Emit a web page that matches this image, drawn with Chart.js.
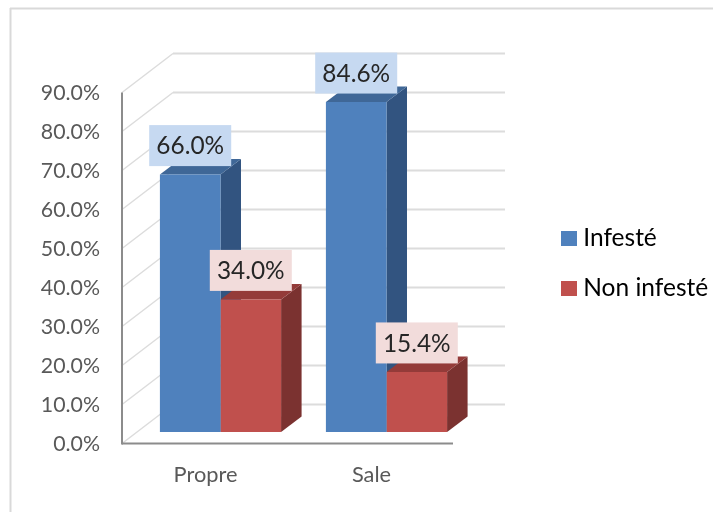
<!DOCTYPE html>
<html>
<head>
<meta charset="utf-8">
<title>Infesté / Non infesté</title>
<style>
    html, body { margin: 0; padding: 0; background: #fff; }
    canvas { display: block; }
</style>
<script src="https://cdn.jsdelivr.net/npm/chart.js@4/dist/chart.umd.js"></script>
</head>
<body>
<canvas id="chart" width="713" height="512"></canvas>
<script>
const categories = ['Propre', 'Sale'];
const infeste = [66.0, 84.6];
const nonInfeste = [34.0, 15.4];
const seriesNames = ['Infesté', 'Non infesté'];

// front, top and side colours, and the label background
const seriesColors = ['#4F81BD', '#C0504D'];
const topColors = ['#3F6797', '#943B39'];
const sideColors = ['#325480', '#7B3230'];
const labelColors = ['#C6D9F1', '#F2DCDB'];

const FONT = 'Lato, "Open Sans", sans-serif';
const barDepth = { x: 20.5, y: -15.5 };
const frontOffset = { left: 122, y: 11.5 };  // front wall, relative to the bars
const backOffset = { left: 173, right: 505, y: -27.5 };

const polygon = (ctx, color, points) => {
    ctx.fillStyle = color;
    ctx.beginPath();
    points.forEach(([x, y], i) => (i ? ctx.lineTo(x, y) : ctx.moveTo(x, y)));
    ctx.closePath();
    ctx.fill();
};

const line = (ctx, color, width, x1, y1, x2, y2) => {
    ctx.strokeStyle = color;
    ctx.lineWidth = width;
    ctx.beginPath();
    ctx.moveTo(x1, y1);
    ctx.lineTo(x2, y2);
    ctx.stroke();
};

const scene3d = {
    id: 'scene3d',
    afterLayout(chart) {
        // the legend sits away from the plot, as in the original
        const legend = chart.legend;
        legend.left = 541.5;
        legend.right = 713;
        legend.top = 48;
        legend.bottom = 479;
    },
    beforeDatasetsDraw(chart) {
        const { ctx, scales } = chart;
        const y = scales.y;
        ctx.save();

        // chart frame
        line(ctx, '#D9D9D9', 2, 10, 8.5, 713, 8.5);
        line(ctx, '#D9D9D9', 2, 10.5, 8, 10.5, 512);

        // walls
        y.ticks.forEach((tick) => {
            const py = y.getPixelForValue(tick.value);
            line(ctx, '#DCDCDC', 2, backOffset.left, py + backOffset.y, backOffset.right, py + backOffset.y);
            line(ctx, '#DCDCDC', 1.5, frontOffset.left, py + frontOffset.y, backOffset.left, py + backOffset.y);
        });

        // axes
        const zero = y.getPixelForValue(0) + frontOffset.y;
        const top = y.getPixelForValue(90) + frontOffset.y;
        line(ctx, '#8C8C8C', 2, frontOffset.left, top, frontOffset.left, zero + 1);
        line(ctx, '#8C8C8C', 2, frontOffset.left, zero, 453, zero);

        // top and side faces of the bars
        chart.data.datasets.forEach((ds, d) => {
            chart.getDatasetMeta(d).data.forEach((bar) => {
                const half = bar.width / 2;
                const l = bar.x - half;
                const r = bar.x + half;
                const dx = barDepth.x;
                const dy = barDepth.y;
                polygon(ctx, sideColors[d], [[r, bar.y], [r + dx, bar.y + dy], [r + dx, bar.base + dy], [r, bar.base]]);
                polygon(ctx, topColors[d], [[l, bar.y], [l + dx, bar.y + dy], [r + dx, bar.y + dy], [r, bar.y]]);
            });
        });
        ctx.restore();
    },
    afterDatasetsDraw(chart) {
        const { ctx } = chart;
        ctx.save();
        ctx.font = '24.4px ' + FONT;
        ctx.textAlign = 'center';
        ctx.textBaseline = 'middle';
        chart.data.datasets.forEach((ds, d) => {
            chart.getDatasetMeta(d).data.forEach((bar, i) => {
                const cy = bar.y - 29;
                ctx.fillStyle = labelColors[d];
                ctx.fillRect(bar.x - 41, cy - 20.5, 82, 41);
                ctx.fillStyle = '#262626';
                ctx.fillText(ds.data[i].toFixed(1) + '%', bar.x, cy + 1);
            });
        });
        ctx.restore();
    },
};

new Chart(document.getElementById('chart'), {
    type: 'bar',
    data: {
        labels: categories,
        datasets: [
            { label: seriesNames[0], data: infeste, backgroundColor: seriesColors[0] },
            { label: seriesNames[1], data: nonInfeste, backgroundColor: seriesColors[1] },
        ],
    },
    options: {
        responsive: false,
        animation: false,
        devicePixelRatio: 1,
        layout: { padding: { top: 81, right: 87, bottom: 0, left: 0 } },
        datasets: { bar: { categoryPercentage: 0.73, barPercentage: 1 } },
        plugins: {
            tooltip: { enabled: false },
            legend: {
                position: 'right',
                labels: {
                    font: { family: FONT, size: 24.5 },
                    color: '#262626',
                    // a small box with a wide border keeps the text close to it
                    boxWidth: 4,
                    boxHeight: 3,
                    padding: 25.5,
                    generateLabels: (chart) => chart.data.datasets.map((ds, i) => ({
                        text: ds.label,
                        datasetIndex: i,
                        fillStyle: seriesColors[i],
                        strokeStyle: seriesColors[i],
                        lineWidth: 12,
                    })),
                },
            },
        },
        scales: {
            x: {
                grid: { display: false, drawTicks: false },
                border: { display: false },
                ticks: {
                    font: { family: FONT, size: 21.8 },
                    color: '#595959',
                    padding: 30,
                    labelOffset: -15,
                },
                afterFit: (scale) => { scale.height = 80; },
            },
            y: {
                min: 0,
                max: 90,
                grid: { display: false, drawTicks: false },
                border: { display: false },
                ticks: {
                    stepSize: 10,
                    font: { family: FONT, size: 21.3 },
                    color: '#595959',
                    padding: 37.5,
                    labelOffset: 12.5,
                    callback: (value) => value.toFixed(1) + '%',
                },
                afterFit: (scale) => { scale.width = 137.5; },
            },
        },
    },
    plugins: [scene3d],
});
</script>
</body>
</html>
